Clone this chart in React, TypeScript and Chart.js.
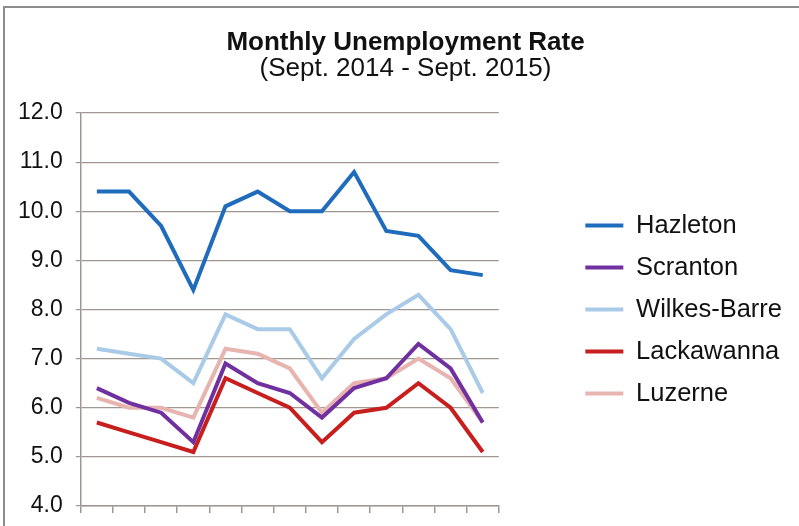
import React, { useEffect, useRef } from "react";
import { Chart, registerables } from "chart.js";

Chart.register(...registerables);

const months = [
  "Sep 2014", "Oct 2014", "Nov 2014", "Dec 2014", "Jan 2015", "Feb 2015", "Mar 2015",
  "Apr 2015", "May 2015", "Jun 2015", "Jul 2015", "Aug 2015", "Sep 2015",
];
const hazleton = [10.4, 10.4, 9.7, 8.4, 10.1, 10.4, 10.0, 10.0, 10.8, 9.6, 9.5, 8.8, 8.7];
const scranton = [6.4, 6.1, 5.9, 5.3, 6.9, 6.5, 6.3, 5.8, 6.4, 6.6, 7.3, 6.8, 5.7];
const wilkesBarre = [7.2, 7.1, 7.0, 6.5, 7.9, 7.6, 7.6, 6.6, 7.4, 7.9, 8.3, 7.6, 6.3];
const lackawanna = [5.7, 5.5, 5.3, 5.1, 6.6, 6.3, 6.0, 5.3, 5.9, 6.0, 6.5, 6.0, 5.1];
const luzerne = [6.2, 6.0, 6.0, 5.8, 7.2, 7.1, 6.8, 5.9, 6.5, 6.6, 7.0, 6.6, 5.7];
const yTicks = [4, 5, 6, 7, 8, 9, 10, 11, 12];

const seriesNames = ["Hazleton", "Scranton", "Wilkes-Barre", "Lackawanna", "Luzerne"];
const seriesData = [hazleton, scranton, wilkesBarre, lackawanna, luzerne];
const seriesColors = ["#1f6cbd", "#7030a0", "#a9cbe8", "#c81e1e", "#e8b4b0"];

const FONT = "'Liberation Sans', Arial, sans-serif";

const titleNudge = {
  id: "titleNudge",
  afterLayout(chart: any) {
    (chart.boxes || []).forEach((b: any) => {
      if (b && b.options && typeof b.options.text === "string" && b.position === "top") {
        b.left += 7;
        b.right += 7;
      }
    });
  },
};

export default function App() {
  const ref = useRef<HTMLCanvasElement | null>(null);

  useEffect(() => {
    document.body.style.margin = "0";
    document.body.style.overflow = "hidden";
    const canvas = ref.current;
    if (!canvas) return;
    const chart = new Chart(canvas, {
      type: "line",
      data: {
        labels: months,
        datasets: seriesNames.map((name, i) => ({
          label: name,
          data: seriesData[i],
          borderColor: seriesColors[i],
          backgroundColor: seriesColors[i],
          borderWidth: 4,
          pointRadius: 0,
          tension: 0,
          fill: false,
        })),
      },
      plugins: [titleNudge],
      options: {
        animation: false,
        responsive: false,
        devicePixelRatio: 1,
        layout: { padding: { left: 5, right: 7, top: 0, bottom: 13 } },
        plugins: {
          title: {
            display: true,
            text: "Monthly Unemployment Rate",
            color: "#111",
            font: { family: FONT, size: 26, weight: "bold", lineHeight: 1.0 },
            padding: { top: 30, bottom: 0 },
          },
          subtitle: {
            display: true,
            text: "(Sept. 2014 - Sept. 2015)",
            color: "#111",
            font: { family: FONT, size: 26, weight: "normal", lineHeight: 1.0 },
            padding: { top: 0, bottom: 31 },
          },
          legend: {
            display: true,
            position: "right",
            align: "center",
            fullSize: false,
            maxWidth: 320,
            labels: {
              color: "#111",
              font: { family: FONT, size: 25.5 },
              boxWidth: 38,
              boxHeight: 4,
              padding: 16.5,
              generateLabels: (c: any) =>
                c.data.datasets.map((ds: any, i: number) => ({
                  text: ds.label,
                  fillStyle: ds.borderColor,
                  strokeStyle: ds.borderColor,
                  lineWidth: 0,
                  fontColor: "#111",
                  hidden: false,
                  datasetIndex: i,
                })),
            },
          },
          tooltip: { enabled: false },
        },
        scales: {
          x: {
            type: "category",
            offset: true,
            grid: {
              display: true,
              offset: true,
              drawOnChartArea: false,
              drawTicks: true,
              tickLength: 7,
              color: "#a09890",
              lineWidth: 1.5,
            },
            border: { display: true, color: "#a09890", width: 1.5 },
            ticks: { display: false },
          },
          y: {
            min: 4,
            max: 12,
            afterBuildTicks: (scale: any) => {
              scale.ticks = yTicks.map((v) => ({ value: v }));
            },
            grid: {
              color: "#a09890",
              lineWidth: 1.2,
              tickLength: 5,
              drawTicks: true,
            },
            border: { display: true, color: "#a09890", width: 1.5 },
            ticks: {
              color: "#111",
              padding: 13,
              font: { family: FONT, size: 23, lineHeight: 0.4 },
              callback: (v: any) => Number(v).toFixed(1),
            },
          },
          gap: {
            type: "linear",
            position: "right",
            display: true,
            grid: { display: false, drawOnChartArea: false },
            border: { display: false },
            ticks: { display: false },
            afterFit: (scale: any) => {
              scale.width = 70;
            },
          },
        },
      } as any,
    });
    return () => chart.destroy();
  }, []);

  return (
    <div style={{ position: "relative", width: 799, height: 526, overflow: "hidden", background: "#fff" }}>
      <canvas ref={ref} width={799} height={526} style={{ position: "absolute", left: 0, top: 0 }} />
      <div
        style={{
          position: "absolute",
          left: 3,
          top: 6,
          width: 900,
          height: 700,
          border: "2px solid #8c8c8c",
          pointerEvents: "none",
        }}
      />
    </div>
  );
}
